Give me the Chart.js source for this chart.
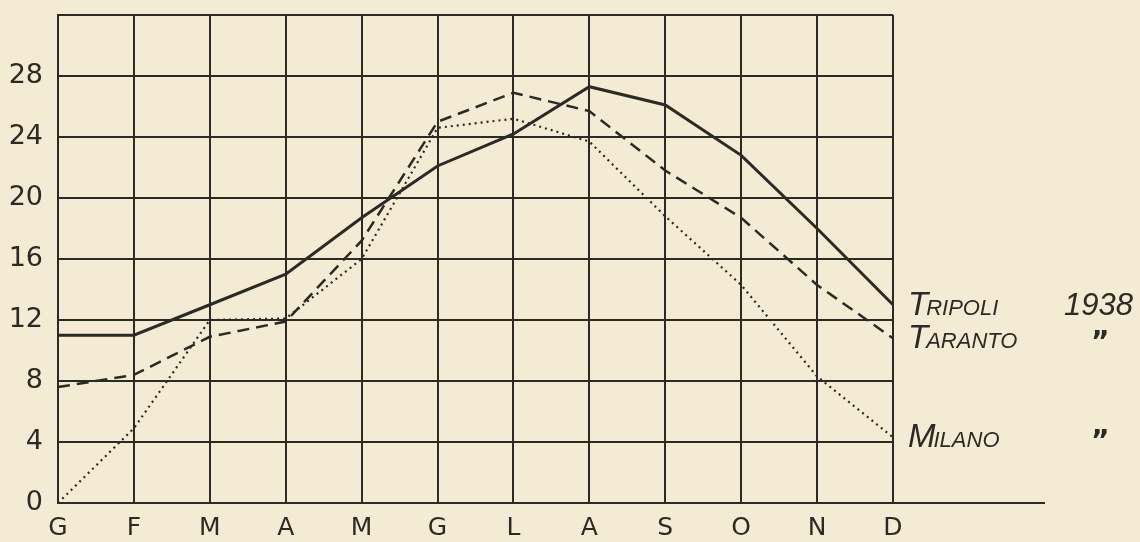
<!DOCTYPE html>
<html>
<head>
<meta charset="utf-8">
<script src="https://cdn.jsdelivr.net/npm/chart.js@4.4.0/dist/chart.umd.min.js"></script>
<style>
  html, body { margin: 0; padding: 0; background: #f3ebd4; }
  #wrap { width: 1140px; height: 542px; position: relative; }
</style>
</head>
<body>
<div id="wrap"><canvas id="tempChart" width="1140" height="542"></canvas></div>
<script>
// mesi (iniziali)
var months = ['G', 'F', 'M', 'A', 'M', 'G', 'L', 'A', 'S', 'O', 'N', 'D'];
// temperature medie 1938
var tripoli = [11.0, 11.0, 13.0, 15.0, 18.7, 22.1, 24.2, 27.3, 26.1, 22.8, 18.0, 13.0];
var taranto = [7.6, 8.4, 10.9, 11.9, 17.2, 25.0, 26.9, 25.7, 21.8, 18.7, 14.3, 10.8];
var milano = [0.0, 4.9, 12.0, 12.1, 16.0, 24.6, 25.2, 23.7, 18.8, 14.3, 8.3, 4.3];
var yTicks = [0, 4, 8, 12, 16, 20, 24, 28];

var ink = '#2b2a24';

// etichette a destra (Tripoli 1938, Taranto ", Milano ")
var seriesLabels = [
  { name: 'Tripoli', note: '1938', data: tripoli },
  { name: 'Taranto', note: '\u201D', data: taranto },
  { name: 'Milano', note: '\u201D', data: milano }
];

var paperPlugin = {
  id: 'paper',
  beforeDraw: function(chart) {
    var c = chart.ctx;
    c.save();
    c.fillStyle = '#f3ebd4';
    c.fillRect(0, 0, chart.width, chart.height);
    c.restore();
  },
  afterDraw: function(chart) {
    var c = chart.ctx;
    var area = chart.chartArea;
    var y = chart.scales.y;
    c.save();
    // asse delle x prolungato
    c.strokeStyle = ink;
    c.lineWidth = 2;
    c.beginPath();
    c.moveTo(area.right, area.bottom);
    c.lineTo(1045, area.bottom);
    c.stroke();

    c.fillStyle = ink;
    c.textBaseline = 'alphabetic';
    seriesLabels.forEach(function(s) {
      var last = s.data[s.data.length - 1];
      var py = y.getPixelForValue(last) + 10;
      var x = area.right + 15;
      c.font = 'italic 33px "Liberation Sans"';
      c.fillText(s.name[0].toUpperCase(), x, py);
      var w = c.measureText(s.name[0].toUpperCase()).width;
      c.font = 'italic 22px "Liberation Sans"';
      c.fillText(s.name.slice(1).toUpperCase(), x + w - 2, py);
      if (s.note === '1938') {
        c.font = 'italic 31px "Liberation Sans"';
        c.fillText(s.note, 1064, py);
      } else {
        c.font = 'bold 28px "DejaVu Sans"';
        c.fillText(s.note, 1091, py + 3);
      }
    });
    c.restore();
  }
};

var ctx = document.getElementById('tempChart');
var tempChart = new Chart(ctx, {
  type: 'line',
  data: {
    labels: months,
    datasets: [
      { label: 'Tripoli', data: tripoli, borderColor: ink, borderWidth: 3, pointRadius: 0, tension: 0 },
      { label: 'Taranto', data: taranto, borderColor: ink, borderWidth: 2.5, borderDash: [12, 7], pointRadius: 0, tension: 0 },
      { label: 'Milano', data: milano, borderColor: ink, borderWidth: 2.2, borderDash: [2, 4], pointRadius: 0, tension: 0 }
    ]
  },
  options: {
    responsive: false,
    animation: false,
    layout: { padding: { top: 15, right: 247, left: 0, bottom: 0 } },
    plugins: { legend: { display: false }, tooltip: { enabled: false } },
    scales: {
      x: {
        offset: false,
        grid: { color: ink, lineWidth: 2, drawTicks: false },
        border: { color: ink, width: 2 },
        ticks: { color: ink, font: { family: 'DejaVu Sans', size: 25 }, padding: 10, maxRotation: 0, autoSkip: false },
        afterFit: function(s) { s.height = 39; s.paddingLeft = 0; s.paddingRight = 0; }
      },
      y: {
        min: 0,
        max: 32,
        afterBuildTicks: function(s) {
          s.ticks = yTicks.concat([32]).map(function(v) { return { value: v }; });
        },
        grid: { color: ink, lineWidth: 2, drawTicks: false },
        border: { color: ink, width: 2 },
        ticks: {
          color: ink,
          font: { family: 'DejaVu Sans', size: 27 },
          padding: 15,
          callback: function(v) { return yTicks.indexOf(v) >= 0 ? String(v) : ''; }
        },
        afterFit: function(s) { s.width = 58; s.paddingTop = 0; s.paddingBottom = 0; }
      }
    }
  },
  plugins: [paperPlugin]
});
</script>
</body>
</html>
